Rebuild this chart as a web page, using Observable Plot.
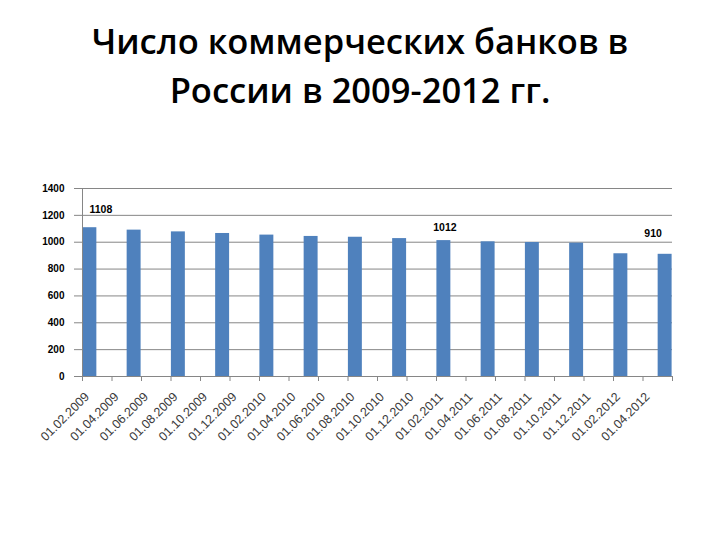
<!DOCTYPE html>
<html>
<head>
<meta charset="utf-8">
<script src="https://cdn.jsdelivr.net/npm/d3@7"></script>
<script src="https://cdn.jsdelivr.net/npm/@observablehq/plot@0.6"></script>
<style>
  html, body { margin: 0; padding: 0; background: #fff; }
  body { width: 720px; height: 540px; overflow: hidden; }
  #title {
    box-sizing: border-box; height: 130px; margin: 0; padding-top: 17px;
    font-family: "Open Sans", "Noto Sans", sans-serif; font-size: 34.5px; line-height: 48.5px;
    font-weight: 600; text-align: center; color: #000;
  }
</style>
</head>
<body>
<div id="title">Число коммерческих банков в<br>России в 2009-2012 гг.</div>
<div id="chart"></div>
<script>
// Bar dates (quarterly) and number of commercial banks
const barDates = ["01.01.2009","01.04.2009","01.07.2009","01.10.2009",
                  "01.01.2010","01.04.2010","01.07.2010","01.10.2010",
                  "01.01.2011","01.04.2011","01.07.2011","01.10.2011",
                  "01.01.2012","01.04.2012"];
const bankCounts = [1108, 1090, 1077, 1065, 1053, 1043, 1037, 1027, 1012, 1003, 998, 993, 914, 910];

// Axis tick labels (every two months)
const tickLabels = ["01.02.2009","01.04.2009","01.06.2009","01.08.2009","01.10.2009","01.12.2009",
                    "01.02.2010","01.04.2010","01.06.2010","01.08.2010","01.10.2010","01.12.2010",
                    "01.02.2011","01.04.2011","01.06.2011","01.08.2011","01.10.2011","01.12.2011",
                    "01.02.2012","01.04.2012"];
const yTicks = [0, 200, 400, 600, 800, 1000, 1200, 1400];

// Dates whose values are annotated
const labeledDates = ["01.01.2009", "01.01.2011", "01.04.2012"];

const monthIndex = s => { const [d, m, y] = s.split(".").map(Number); return (y - 2009) * 12 + (m - 1); };
const bars = barDates.map((d, i) => ({date: d, m: monthIndex(d), v: bankCounts[i]}));
const nMonths = monthIndex(barDates[barDates.length - 1]) + 1;
const labelData = tickLabels.map((t, k) => ({x: 2 * k + 0.5, t}));
const boundaries = d3.range(0, nMonths + 1, 2);
const lab = d => bars.filter(b => b.date === d);

const grid = "#868686";
const chart = Plot.plot({
  width: 720, height: 410,
  marginTop: 58, marginBottom: 164, marginLeft: 82, marginRight: 48,
  style: {fontFamily: "'Liberation Sans', Arial, sans-serif", background: "#fff", overflow: "visible"},
  x: {domain: [0, nMonths], axis: null},
  y: {domain: [0, 1400], axis: null},
  marks: [
    Plot.gridY(yTicks, {stroke: grid, strokeOpacity: 1}),
    Plot.axisY(yTicks, {tickSize: 8, tickFormat: () => "", stroke: grid, label: null}),
    Plot.rectY(bars, {x1: "m", x2: d => d.m + 1, y: "v", fill: "#4F81BD", insetLeft: 0.4, insetRight: 0.4}),
    Plot.ruleX([0], {stroke: grid}),
    Plot.ruleY([0], {stroke: grid}),
    Plot.axisX(boundaries, {tickSize: 5, tickFormat: () => "", stroke: grid, label: null}),
    Plot.text(yTicks, {y: d => d, text: d => String(d), frameAnchor: "left", textAnchor: "end", dx: -18,
      fontSize: 10, fontWeight: "bold", fill: "#000"}),
    Plot.text(labelData, {x: "x", text: "t", frameAnchor: "bottom", rotate: -45, textAnchor: "end",
      dy: 21, fontSize: 12.5, fill: "#3a3a3a"}),
    Plot.text(lab(labeledDates[0]), {x: d => d.m + 0.5, y: "v", text: d => String(d.v), dx: 11, dy: -18,
      fontSize: 10.5, fontWeight: "bold", fill: "#000"}),
    Plot.text(lab(labeledDates[1]), {x: d => d.m + 0.5, y: "v", text: d => String(d.v), dx: 1, dy: -13,
      fontSize: 10.5, fontWeight: "bold", fill: "#000"}),
    Plot.text(lab(labeledDates[2]), {x: d => d.m + 0.5, y: "v", text: d => String(d.v), dx: -12, dy: -21,
      fontSize: 10.5, fontWeight: "bold", fill: "#000"})
  ]
});
document.getElementById("chart").appendChild(chart);
</script>
</body>
</html>
